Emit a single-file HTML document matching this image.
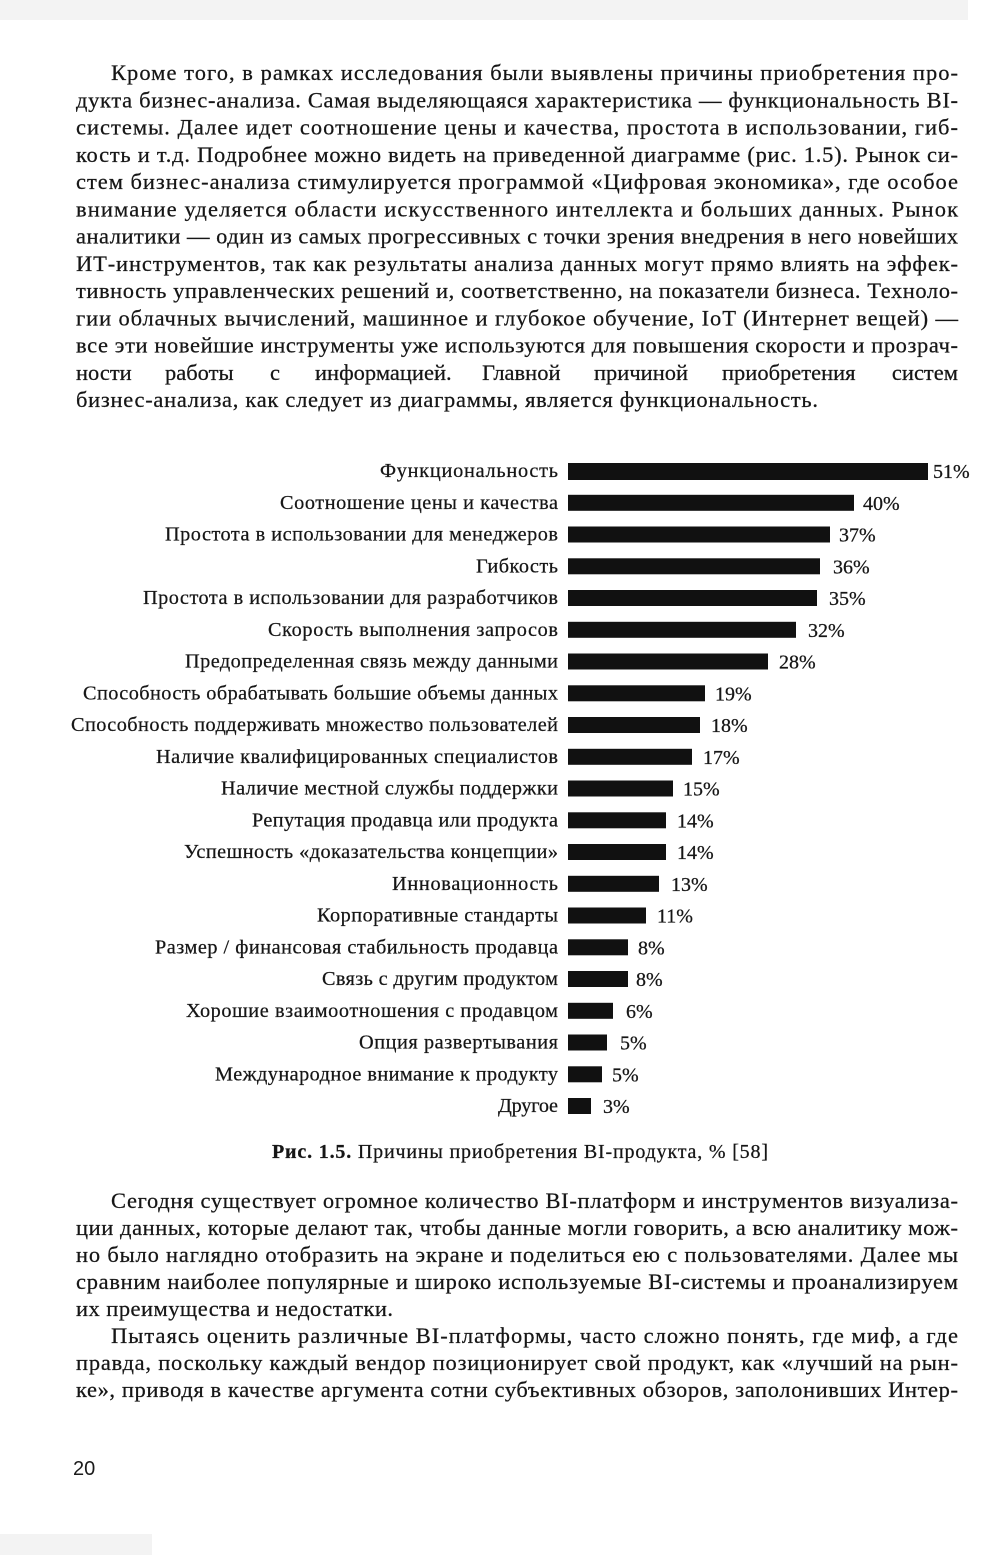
<!DOCTYPE html>
<html lang="ru">
<head>
<meta charset="utf-8">
<style>
  html, body { margin: 0; padding: 0; background: #ffffff; }
  body { width: 1000px; height: 1555px; overflow: hidden; }
  svg { display: block; }
  .t { font-family: "Liberation Serif", "DejaVu Serif", serif; fill: #161616; stroke: #161616; stroke-width: 0.25; }
  .b { font-size: 22.5px; }
  .l { font-size: 20.3px; }
  .p { font-size: 20px; }
  .c { font-size: 20px; }
</style>
</head>
<body>
<svg width="1000" height="1555" viewBox="0 0 1000 1555" xmlns="http://www.w3.org/2000/svg">
  <rect x="0" y="0" width="1000" height="1555" fill="#ffffff"/>
  <rect x="0" y="0" width="968" height="20" fill="#f3f3f3"/>
  <rect x="0" y="1534" width="152" height="21" fill="#f3f3f3"/>

  <!-- Paragraph 1 -->
  <g class="t b">
    <text x="111" y="80" textLength="847" lengthAdjust="spacing">Кроме того, в рамках исследования были выявлены причины приобретения про-</text>
    <text x="76" y="107.3" textLength="882" lengthAdjust="spacing">дукта бизнес-анализа. Самая выделяющаяся характеристика — функциональность BI-</text>
    <text x="76" y="134.5" textLength="882" lengthAdjust="spacing">системы. Далее идет соотношение цены и качества, простота в использовании, гиб-</text>
    <text x="76" y="161.8" textLength="882" lengthAdjust="spacing">кость и т.д. Подробнее можно видеть на приведенной диаграмме (рис. 1.5). Рынок си-</text>
    <text x="76" y="189" textLength="882" lengthAdjust="spacing">стем бизнес-анализа стимулируется программой «Цифровая экономика», где особое</text>
    <text x="76" y="216.3" textLength="882" lengthAdjust="spacing">внимание уделяется области искусственного интеллекта и больших данных. Рынок</text>
    <text x="76" y="243.5" textLength="882" lengthAdjust="spacing">аналитики — один из самых прогрессивных с точки зрения внедрения в него новейших</text>
    <text x="76" y="270.8" textLength="882" lengthAdjust="spacing">ИТ-инструментов, так как результаты анализа данных могут прямо влиять на эффек-</text>
    <text x="76" y="298" textLength="882" lengthAdjust="spacing">тивность управленческих решений и, соответственно, на показатели бизнеса. Техноло-</text>
    <text x="76" y="325.3" textLength="882" lengthAdjust="spacing">гии облачных вычислений, машинное и глубокое обучение, IoT (Интернет вещей) —</text>
    <text x="76" y="352.5" textLength="882" lengthAdjust="spacing">все эти новейшие инструменты уже используются для повышения скорости и прозрач-</text>
    <text x="76" y="379.8">ности</text>
    <text x="165" y="379.8">работы</text>
    <text x="270" y="379.8">с</text>
    <text x="315" y="379.8">информацией.</text>
    <text x="482" y="379.8">Главной</text>
    <text x="594" y="379.8">причиной</text>
    <text x="722" y="379.8">приобретения</text>
    <text x="958" y="379.8" text-anchor="end">систем</text>
    <text x="76" y="407" textLength="742" lengthAdjust="spacing">бизнес-анализа, как следует из диаграммы, является функциональность.</text>
  </g>

  <!-- Chart labels -->
  <g class="t l">
    <text x="380" y="477" textLength="178" lengthAdjust="spacing">Функциональность</text>
    <text x="280" y="508.8" textLength="278" lengthAdjust="spacing">Соотношение цены и качества</text>
    <text x="165" y="540.5" textLength="393" lengthAdjust="spacing">Простота в использовании для менеджеров</text>
    <text x="476" y="572.3" textLength="82" lengthAdjust="spacing">Гибкость</text>
    <text x="143" y="604" textLength="415" lengthAdjust="spacing">Простота в использовании для разработчиков</text>
    <text x="268" y="635.8" textLength="290" lengthAdjust="spacing">Скорость выполнения запросов</text>
    <text x="185" y="667.5" textLength="373" lengthAdjust="spacing">Предопределенная связь между данными</text>
    <text x="83" y="699.3" textLength="475" lengthAdjust="spacing">Способность обрабатывать большие объемы данных</text>
    <text x="71" y="731" textLength="487" lengthAdjust="spacing">Способность поддерживать множество пользователей</text>
    <text x="156" y="762.8" textLength="402" lengthAdjust="spacing">Наличие квалифицированных специалистов</text>
    <text x="221" y="794.5" textLength="337" lengthAdjust="spacing">Наличие местной службы поддержки</text>
    <text x="252" y="826.3" textLength="306" lengthAdjust="spacing">Репутация продавца или продукта</text>
    <text x="184" y="858" textLength="374" lengthAdjust="spacing">Успешность «доказательства концепции»</text>
    <text x="392" y="889.8" textLength="166" lengthAdjust="spacing">Инновационность</text>
    <text x="317" y="921.5" textLength="241" lengthAdjust="spacing">Корпоративные стандарты</text>
    <text x="155" y="953.3" textLength="403" lengthAdjust="spacing">Размер / финансовая стабильность продавца</text>
    <text x="322" y="985" textLength="236" lengthAdjust="spacing">Связь с другим продуктом</text>
    <text x="186" y="1016.8" textLength="372" lengthAdjust="spacing">Хорошие взаимоотношения с продавцом</text>
    <text x="359" y="1048.5" textLength="199" lengthAdjust="spacing">Опция развертывания</text>
    <text x="215" y="1080.3" textLength="343" lengthAdjust="spacing">Международное внимание к продукту</text>
    <text x="498" y="1112" textLength="60" lengthAdjust="spacing">Другое</text>
  </g>

  <!-- Bars -->
  <g fill="#111111">
    <rect x="568" y="463" width="360" height="17"/>
    <rect x="568" y="494.8" width="286" height="16"/>
    <rect x="568" y="526.5" width="262" height="16"/>
    <rect x="568" y="558.3" width="252" height="16"/>
    <rect x="568" y="590" width="249" height="16"/>
    <rect x="568" y="621.8" width="228" height="16"/>
    <rect x="568" y="653.5" width="200" height="16"/>
    <rect x="568" y="685.3" width="137" height="16"/>
    <rect x="568" y="717" width="132" height="16"/>
    <rect x="568" y="748.8" width="124" height="16"/>
    <rect x="568" y="780.5" width="105" height="16"/>
    <rect x="568" y="812.3" width="98" height="16"/>
    <rect x="568" y="844" width="98" height="16"/>
    <rect x="568" y="875.8" width="91" height="16"/>
    <rect x="568" y="907.5" width="78" height="16"/>
    <rect x="568" y="939.3" width="60" height="16"/>
    <rect x="568" y="971" width="60" height="16"/>
    <rect x="568" y="1002.8" width="45" height="16"/>
    <rect x="568" y="1034.5" width="39" height="16"/>
    <rect x="568" y="1066.3" width="34" height="16"/>
    <rect x="568" y="1098" width="23" height="16"/>
  </g>

  <!-- Percent labels -->
  <g class="t p">
    <text x="933" y="478">51%</text>
    <text x="863" y="509.8">40%</text>
    <text x="839" y="541.5">37%</text>
    <text x="833" y="573.3">36%</text>
    <text x="829" y="605">35%</text>
    <text x="808" y="636.8">32%</text>
    <text x="779" y="668.5">28%</text>
    <text x="715" y="700.3">19%</text>
    <text x="711" y="732">18%</text>
    <text x="703" y="763.8">17%</text>
    <text x="683" y="795.5">15%</text>
    <text x="677" y="827.3">14%</text>
    <text x="677" y="859">14%</text>
    <text x="671" y="890.8">13%</text>
    <text x="657" y="922.5">11%</text>
    <text x="638" y="954.3">8%</text>
    <text x="636" y="986">8%</text>
    <text x="626" y="1017.8">6%</text>
    <text x="620" y="1049.5">5%</text>
    <text x="612" y="1081.3">5%</text>
    <text x="603" y="1113">3%</text>
  </g>

  <!-- Caption -->
  <text class="t c" x="272" y="1158" textLength="496" lengthAdjust="spacing"><tspan font-weight="bold">Рис. 1.5.</tspan> Причины приобретения BI-продукта, % [58]</text>

  <!-- Paragraphs 2 and 3 -->
  <g class="t b">
    <text x="111" y="1208" textLength="847" lengthAdjust="spacing">Сегодня существует огромное количество BI-платформ и инструментов визуализа-</text>
    <text x="76" y="1235" textLength="882" lengthAdjust="spacing">ции данных, которые делают так, чтобы данные могли говорить, а всю аналитику мож-</text>
    <text x="76" y="1262" textLength="882" lengthAdjust="spacing">но было наглядно отобразить на экране и поделиться ею с пользователями. Далее мы</text>
    <text x="76" y="1289" textLength="882" lengthAdjust="spacing">сравним наиболее популярные и широко используемые BI-системы и проанализируем</text>
    <text x="76" y="1316" textLength="317" lengthAdjust="spacing">их преимущества и недостатки.</text>
    <text x="111" y="1343" textLength="847" lengthAdjust="spacing">Пытаясь оценить различные BI-платформы, часто сложно понять, где миф, а где</text>
    <text x="76" y="1370" textLength="882" lengthAdjust="spacing">правда, поскольку каждый вендор позиционирует свой продукт, как «лучший на рын-</text>
    <text x="76" y="1397" textLength="882" lengthAdjust="spacing">ке», приводя в качестве аргумента сотни субъективных обзоров, заполонивших Интер-</text>
  </g>

  <!-- Page number -->
  <text x="73" y="1475" font-family="Liberation Sans, DejaVu Sans, sans-serif" font-size="20" fill="#1b1b1b">20</text>
</svg>
</body>
</html>
